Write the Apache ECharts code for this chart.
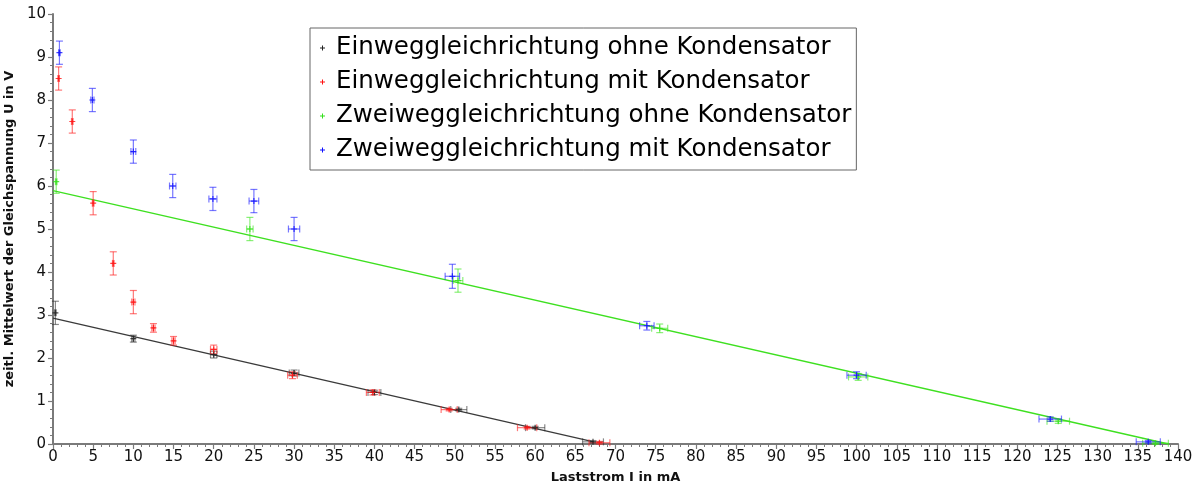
<!DOCTYPE html>
<html>
<head>
<meta charset="utf-8">
<script src="https://cdn.jsdelivr.net/npm/echarts@6/dist/echarts.min.js"></script>
<style>
  html, body { margin: 0; padding: 0; background: #fff; }
  #chart { width: 1199px; height: 487px; }
</style>
</head>
<body>
<div id="chart"></div>
<script>
// Laststrom I (mA), Gleichspannung U (V) and their uncertainties per measurement series
const einOhneI  = [0.3, 10, 20, 30, 40, 50.5, 60, 67.2];
const einOhneU  = [3.05, 2.45, 2.08, 1.65, 1.2, 0.8, 0.38, 0.05];
const einOhneDI = [0.1, 0.2, 0.4, 0.6, 0.8, 1.0, 1.2, 1.3];
const einOhneDU = [0.27, 0.08, 0.08, 0.07, 0.05, 0.03, 0.03, 0.03];

const einMitI  = [0.7, 2.4, 5, 7.5, 10, 12.5, 15, 20, 29.8, 39.8, 49.3, 59, 68];
const einMitU  = [8.5, 7.5, 5.6, 4.2, 3.3, 2.7, 2.4, 2.2, 1.6, 1.2, 0.8, 0.38, 0.03];
const einMitDI = [0.1, 0.1, 0.1, 0.1, 0.2, 0.2, 0.2, 0.4, 0.6, 0.8, 1.0, 1.2, 1.3];
const einMitDU = [0.27, 0.27, 0.27, 0.27, 0.27, 0.1, 0.1, 0.1, 0.08, 0.06, 0.03, 0.03, 0.03];

const zweiOhneI  = [0.4, 24.5, 50.4, 75.5, 100.2, 125.1, 137.2];
const zweiOhneU  = [6.1, 5.0, 3.8, 2.69, 1.56, 0.53, 0.02];
const zweiOhneDI = [0.1, 0.4, 0.6, 1.0, 1.2, 1.4, 1.6];
const zweiOhneDU = [0.27, 0.27, 0.27, 0.1, 0.08, 0.05, 0.03];

const zweiMitI  = [0.8, 4.9, 10, 14.9, 19.9, 25, 30, 49.7, 73.9, 100, 124.1, 136.3];
const zweiMitU  = [9.1, 8.0, 6.8, 6.0, 5.7, 5.65, 5.0, 3.9, 2.75, 1.6, 0.58, 0.05];
const zweiMitDI = [0.1, 0.2, 0.3, 0.4, 0.5, 0.6, 0.7, 0.9, 0.9, 1.2, 1.4, 1.5];
const zweiMitDU = [0.27, 0.27, 0.27, 0.27, 0.27, 0.27, 0.27, 0.28, 0.1, 0.08, 0.05, 0.03];

// Linear fits (start and end point)
const fitEinOhne  = [[0, 2.93], [67.3, 0.05]];
const fitZweiOhne = [[0, 5.89], [138.8, 0.0]];

const seriesNames = [
  'Einweggleichrichtung ohne Kondensator',
  'Einweggleichrichtung mit Kondensator',
  'Zweiweggleichrichtung ohne Kondensator',
  'Zweiweggleichrichtung mit Kondensator'
];
const colors = ['#222222', '#ff1010', '#33e01a', '#1010ff'];
const barColors = ['rgba(40,40,40,0.55)', 'rgba(255,30,30,0.6)', 'rgba(60,230,30,0.6)', 'rgba(30,30,255,0.6)'];

const CROSS = 'path://M4,0H6V4H10V6H6V10H4V6H0V4H4Z';

function rows(I, U, DI, DU) {
  return I.map((x, k) => [x, U[k], DI[k], DU[k]]);
}

function errorBarSeries(name, data, color) {
  return {
    name: name,
    type: 'custom',
    data: data,
    encode: { x: 0, y: 1 },
    z: 3,
    silent: true,
    renderItem: function (params, api) {
      const x = api.value(0), y = api.value(1);
      const dx = api.value(2), dy = api.value(3);
      const top = api.coord([x, y + dy]);
      const bot = api.coord([x, y - dy]);
      const lft = api.coord([x - dx, y]);
      const rgt = api.coord([x + dx, y]);
      const cap = 3.5;
      const st = { stroke: color, lineWidth: 1.2, fill: null };
      const lines = [
        [top, bot],
        [[top[0] - cap, top[1]], [top[0] + cap, top[1]]],
        [[bot[0] - cap, bot[1]], [bot[0] + cap, bot[1]]],
        [lft, rgt],
        [[lft[0], lft[1] - cap], [lft[0], lft[1] + cap]],
        [[rgt[0], rgt[1] - cap], [rgt[0], rgt[1] + cap]]
      ];
      return {
        type: 'group',
        children: lines.map(p => ({
          type: 'line',
          shape: { x1: p[0][0], y1: p[0][1], x2: p[1][0], y2: p[1][1] },
          style: st
        }))
      };
    }
  };
}

function pointSeries(name, I, U, color) {
  return {
    name: name,
    type: 'scatter',
    data: I.map((x, k) => [x, U[k]]),
    symbol: CROSS,
    symbolSize: 6,
    itemStyle: { color: color },
    z: 4,
    silent: true
  };
}

function fitSeries(pts, color) {
  return {
    type: 'line',
    data: pts,
    symbol: 'none',
    lineStyle: { color: color, width: 1.3 },
    z: 2,
    silent: true
  };
}

const chart = echarts.init(document.getElementById('chart'), null, { renderer: 'canvas' });

const axisFont = { fontFamily: 'DejaVu Sans', fontSize: 15, color: '#111' };
const nameFont = { fontFamily: 'DejaVu Sans', fontSize: 13, fontWeight: 'bold', color: '#111' };

chart.setOption({
  animation: false,
  backgroundColor: '#ffffff',
  grid: { left: 53, right: 21, top: 14, bottom: 43, containLabel: false, outerBoundsMode: 'none' },
  legend: {
    orient: 'vertical',
    left: 310,
    top: 28,
    padding: [3, 5, 3, 10],
    backgroundColor: '#ffffff',
    borderColor: '#666666',
    borderWidth: 1,
    itemWidth: 17,
    itemHeight: 5,
    itemGap: 0,
    textStyle: { fontFamily: 'DejaVu Sans', fontSize: 24.5, color: '#000', lineHeight: 34 },
    data: seriesNames.map((n, k) => ({ name: n, icon: CROSS, itemStyle: { color: colors[k] } })),
    selectedMode: false
  },
  xAxis: {
    type: 'value',
    min: 0,
    max: 140,
    interval: 5,
    name: 'Laststrom I in mA',
    nameLocation: 'middle',
    nameGap: 27,
    nameTextStyle: nameFont,
    axisLine: { show: true, onZero: false, lineStyle: { color: '#7a7a7a', width: 2 } },
    axisTick: { show: true, length: 5, lineStyle: { color: '#7a7a7a', width: 1.2 } },
    minorTick: { show: true, splitNumber: 5, length: 3, lineStyle: { color: '#7a7a7a', width: 1 } },
    splitLine: { show: false },
    axisLabel: Object.assign({ margin: 6 }, axisFont)
  },
  yAxis: {
    type: 'value',
    min: 0,
    max: 10,
    interval: 1,
    name: 'zeitl. Mittelwert der Gleichspannung U in V',
    nameLocation: 'middle',
    nameGap: 37,
    nameTextStyle: nameFont,
    axisLine: { show: true, onZero: false, lineStyle: { color: '#7a7a7a', width: 2 } },
    axisTick: { show: true, length: 5, lineStyle: { color: '#7a7a7a', width: 1.2 } },
    minorTick: { show: true, splitNumber: 5, length: 3, lineStyle: { color: '#7a7a7a', width: 1 } },
    splitLine: { show: false },
    axisLabel: Object.assign({ margin: 7 }, axisFont)
  },
  series: [
    fitSeries(fitEinOhne, '#3a3a3a'),
    fitSeries(fitZweiOhne, '#3ee020'),
    errorBarSeries(seriesNames[0], rows(einOhneI, einOhneU, einOhneDI, einOhneDU), barColors[0]),
    errorBarSeries(seriesNames[1], rows(einMitI, einMitU, einMitDI, einMitDU), barColors[1]),
    errorBarSeries(seriesNames[2], rows(zweiOhneI, zweiOhneU, zweiOhneDI, zweiOhneDU), barColors[2]),
    errorBarSeries(seriesNames[3], rows(zweiMitI, zweiMitU, zweiMitDI, zweiMitDU), barColors[3]),
    pointSeries(seriesNames[0], einOhneI, einOhneU, colors[0]),
    pointSeries(seriesNames[1], einMitI, einMitU, colors[1]),
    pointSeries(seriesNames[2], zweiOhneI, zweiOhneU, colors[2]),
    pointSeries(seriesNames[3], zweiMitI, zweiMitU, colors[3])
  ]
});
</script>
</body>
</html>
